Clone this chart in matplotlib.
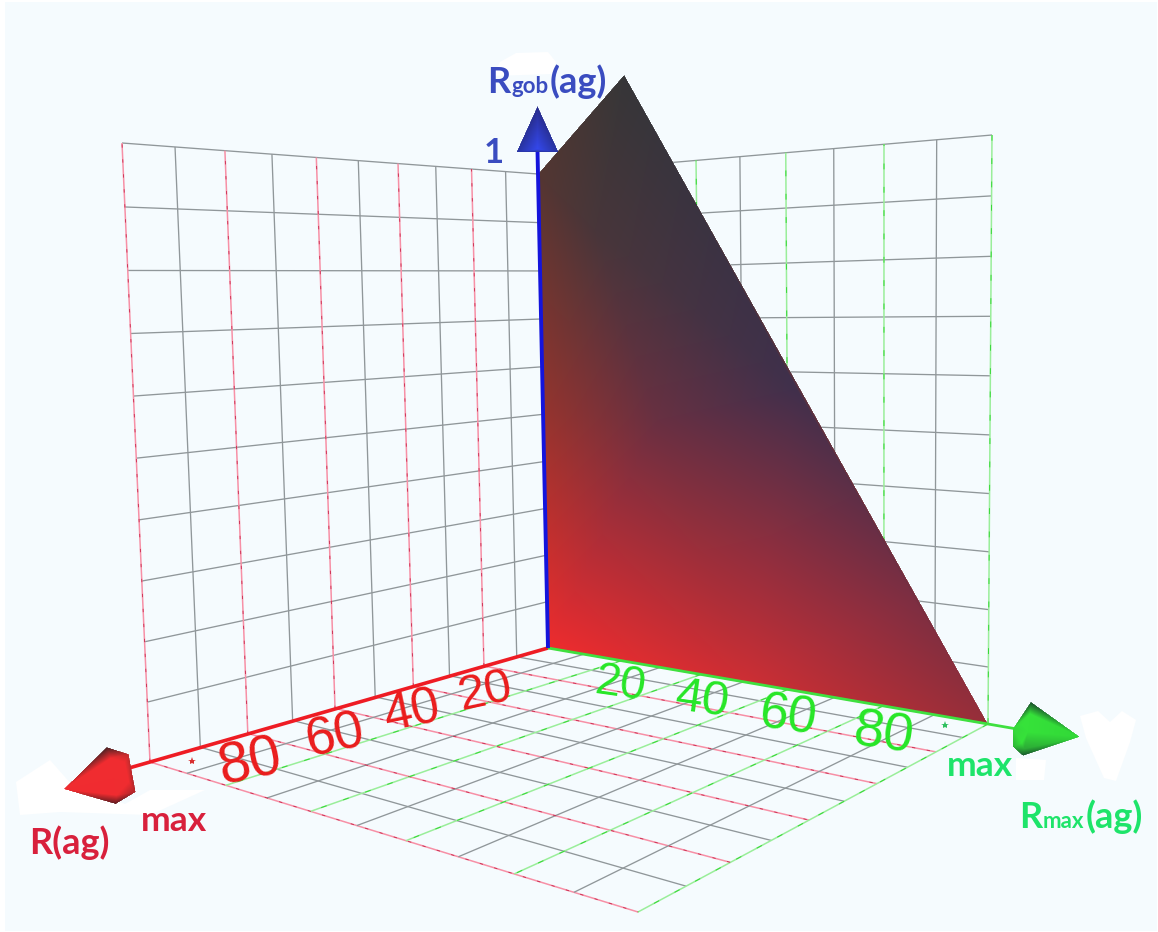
import numpy as np
import matplotlib
matplotlib.use("Agg")
import matplotlib.pyplot as plt
import matplotlib.tri as mtri
from matplotlib.patches import Polygon, Rectangle

# ---------- data ----------
r_ticks = [0, 10, 20, 30, 40, 50, 60, 70, 80, 90, 100]
rmax_ticks = [0, 10, 20, 30, 40, 50, 60, 70, 80, 90, 100]
rgob_ticks = [0, .1, .2, .3, .4, .5, .6, .7, .8, .9, 1.0]
r_labels = [20, 40, 60, 80]
rmax_labels = [20, 40, 60, 80]
# surface on the R = 0 wall: (Rmax, Rgob) with shading colour at each mesh node
surf_outline_rmax = [0, 100, 23, 0]
surf_outline_rgob = [0, 0, 1.178, 1.0]
surf_rmax = [0, 100, 23, 0, 50, 62, 0, 30, 15, 86]
surf_rgob = [0, 0, 1.178, 1.0, 0, .57, .5, .5, .88, .2]
surf_rgb = [(238, 44, 46), (150, 46, 58), (54, 54, 56), (84, 54, 50),
            (206, 46, 52), (64, 48, 76), (150, 52, 46), (104, 48, 66), (72, 54, 58), (126, 46, 66)]

# ---------- layout ----------
W, H = 1158, 932
BG = "#f5fbfe"
ORIGIN = (548, 648)
FLOOR = [ORIGIN, (150, 762), (988, 724), (638, 912)]      # (R,Rmax) = 00, 10, 01, 11
LEFT = [ORIGIN, (150, 762), (538, 174), (122, 143)]       # (R,Rgob)
RIGHT = [ORIGIN, (988, 724), (538, 174), (992, 135)]      # (Rmax,Rgob)


def homography(q):
    src = [(0, 0), (1, 0), (0, 1), (1, 1)]
    A, b = [], []
    for (s, t), (x, y) in zip(src, q):
        A.append([s, t, 1, 0, 0, 0, -s * x, -t * x]); b.append(x)
        A.append([0, 0, 0, s, t, 1, -s * y, -t * y]); b.append(y)
    return np.append(np.linalg.solve(np.array(A, float), np.array(b, float)), 1).reshape(3, 3)


HF, HL, HR = homography(FLOOR), homography(LEFT), homography(RIGHT)


def proj(M, s, t):
    s, t = np.asarray(s, float), np.asarray(t, float)
    p = M @ np.vstack([s, t, np.ones_like(s)])
    return p[0] / p[2], p[1] / p[2]


fig = plt.figure(figsize=(W / 100, H / 100), dpi=100, facecolor="white")
ax = fig.add_axes([0, 0, 1, 1])
ax.axis("off")
ax.add_patch(Rectangle((5, 2), W - 6, H - 3, fc=BG, ec="none", zorder=0))

GRAY = "#90979a"
PINK, DRED = "#f790a6", "#c8284c"
LGRN, DGRN = "#9aee9a", "#36d836"


def gridline(M, s, t, major):
    x, y = proj(M, s, t)
    if major == "r":
        ax.plot(x, y, color=PINK, lw=1.1, zorder=1, solid_capstyle="butt")
        ax.plot(x, y, color=DRED, lw=.6, dashes=(4, 14), zorder=1.1)
    elif major == "g":
        ax.plot(x, y, color=LGRN, lw=1.1, zorder=1, solid_capstyle="butt")
        ax.plot(x, y, color=DGRN, lw=.7, dashes=(6, 18), zorder=1.1)
    else:
        ax.plot(x, y, color=GRAY, lw=.95, zorder=1, solid_capstyle="butt")


for i, v in enumerate(rgob_ticks):   # wall horizontals
    gridline(HL, [0, 1], [v, v], None)
    gridline(HR, [0, 1], [v, v], None)
for i, v in enumerate(r_ticks):
    c = "r" if i % 2 == 0 else None
    if i:
        gridline(HL, [v / 100] * 2, [0, 1], c)
        gridline(HF, [v / 100] * 2, [0, 1], c)
for i, v in enumerate(rmax_ticks):
    c = "g" if i % 2 == 0 else None
    if i:
        gridline(HR, [v / 100] * 2, [0, 1], c)
        gridline(HF, [0, 1], [v / 100] * 2, c)


def shaded(xs, ys, rgb, outline, zorder):
    """Gouraud shading of a mesh, one channel at a time, clipped to the outline."""
    tri = mtri.Triangulation(xs, ys)
    x0, x1 = int(min(xs)) - 1, int(max(xs)) + 2
    y0, y1 = int(min(ys)) - 1, int(max(ys)) + 2
    gx, gy = np.meshgrid(np.arange(x0, x1) + .5, np.arange(y0, y1) + .5)
    rgb = np.asarray(rgb, float) / 255
    img = np.zeros(gx.shape + (4,))
    for c in range(3):
        z = mtri.LinearTriInterpolator(tri, rgb[:, c])(gx, gy)
        img[..., c] = np.ma.filled(z, 0)
        mask = np.ma.getmaskarray(z)
    img[..., 3] = ~mask
    im = ax.imshow(img, extent=(x0, x1, y1, y0), interpolation="nearest",
                   zorder=zorder, aspect="auto")
    im.set_clip_path(Polygon(outline, closed=True, transform=ax.transData))


sx, sy = proj(HR, np.array(surf_rmax) / 100, surf_rgob)
ox, oy = proj(HR, np.array(surf_outline_rmax) / 100, surf_outline_rgob)
shaded(sx, sy, surf_rgb, np.column_stack([ox, oy]), 2)

# ---------- white halos left in the picture around the labels ----------
halos = [
    [(1080, 716), (1098, 711), (1110, 722), (1122, 711), (1136, 720), (1130, 742), (1116, 781), (1104, 778), (1086, 738)],
    [(16, 782), (50, 760), (72, 785), (125, 804), (150, 790), (205, 790), (150, 815), (60, 812), (20, 815)],
    [(516, 53), (548, 52), (556, 62), (552, 74), (492, 76), (500, 62)],
    [(1016, 758), (1046, 760), (1044, 780), (1016, 780)],
]
for h in halos:
    ax.add_patch(Polygon(h, closed=True, fc="white", ec="none", zorder=.5))

# ---------- axes ----------
ax.plot(*proj(HF, [0, 1.04], [0, 0]), color="#ee1c24", lw=2.6, zorder=3, solid_capstyle="butt")
ax.plot(*proj(HF, [0, 0], [0, 1.05]), color="#3fe03f", lw=2.0, zorder=3, solid_capstyle="butt")
ax.plot(*proj(HR, [0, 0], [0, 1.045]), color="#1414dc", lw=2.8, zorder=4, solid_capstyle="butt")

# arrowheads: offsets (px) from the axis end, with colour at each node
rx, ry = proj(HF, [1.04], [0])
rax = np.array([(-65, 21), (-22, -21), (0, -14), (7, 24), (-13, 36),
                (-18, -10), (-4, -6), (-15, 10), (0, 14), (-12, 27)], float)
BR = (240, 44, 48)
rcol = [BR, (70, 34, 36), (190, 44, 46), (170, 38, 42), (90, 28, 32), BR, BR, BR, BR, BR]
shaded(rx[0] + rax[:, 0], ry[0] + rax[:, 1], rcol, np.column_stack([rx[0] + rax[:5, 0], ry[0] + rax[:5, 1]]), 5)
gx, gy = proj(HF, [0], [1.05])
gax = np.array([(64, 8), (15, -27), (-3, 0), (-3, 18), (7, 27),
                (14, -15), (6, -4), (12, 3), (6, 14), (8, 20)], float)
GR = (54, 226, 58)
gcol = [(50, 216, 56), (26, 76, 44), (54, 216, 58), (44, 180, 54), (24, 84, 44), GR, GR, GR, GR, (44, 170, 54)]
shaded(gx[0] + gax[:, 0], gy[0] + gax[:, 1], gcol, np.column_stack([gx[0] + gax[:5, 0], gy[0] + gax[:5, 1]]), 5)
bx, by = proj(HR, [0], [1.045])
bax = np.array([(0, -46), (-21, 0), (21, 0), (0, -3)], float)
bcol = [(40, 44, 140), (40, 52, 160), (40, 52, 160), (52, 72, 236)]
shaded(bx[0] + bax[:, 0], by[0] + bax[:, 1], bcol, np.column_stack([bx[0] + bax[:3, 0], by[0] + bax[:3, 1]]), 5)

# small end ticks
mx, my = proj(HF, [.955], [.05])
ax.plot(mx, my, marker="*", ms=6, color="#d83030", mew=0, zorder=3)
mx, my = proj(HF, [.05], [.945])
ax.plot(mx, my, marker="*", ms=6, color="#30c060", mew=0, zorder=3)

# ---------- text ----------
TICKF = ["Liberation Sans"]
red_pos = [(485, 692), (413, 712), (335, 737), (250, 763)]
red_size = [35, 36.5, 38, 41]
grn_pos = [(621, 685), (702, 700), (788, 717), (883, 735)]
grn_size = [33, 35, 37, 39]
for lab, p, fs in zip(r_labels, red_pos, red_size):
    ax.text(*p, str(lab), color="#ea1c1c", fontsize=fs, rotation=12, family=TICKF,
            ha="center", va="center", rotation_mode="anchor", zorder=6)
for lab, p, fs in zip(rmax_labels, grn_pos, grn_size):
    ax.text(*p, str(lab), color="#26e626", fontsize=fs, rotation=-8, family=TICKF,
            ha="center", va="center", rotation_mode="anchor", zorder=6)

LAB = dict(family="Lato", fontweight="bold", zorder=7, va="baseline")
rend = fig.canvas.get_renderer()


def run(x, y, parts, color):
    for s, fs in parts:
        t = ax.text(x, y, s, color=color, fontsize=fs, ha="left", **LAB)
        x += t.get_window_extent(rend).width + 1


RED, GRN, BLU = "#d8203c", "#1ee46a", "#3a4cc0"
run(29, 854, [("R(ag)", 26)], RED)
run(141, 831, [("max", 25.5)], RED)
run(947, 776, [("max", 25.5)], GRN)
run(1019, 828, [("R", 26), ("max", 16), ("(ag)", 26)], GRN)
run(487, 93, [("R", 26), ("gob", 16), ("(ag)", 26)], BLU)
run(484, 163, [("1", 25)], BLU)

ax.set_xlim(0, W)
ax.set_ylim(H, 0)
fig.savefig("out.png", dpi=100, facecolor="white")
